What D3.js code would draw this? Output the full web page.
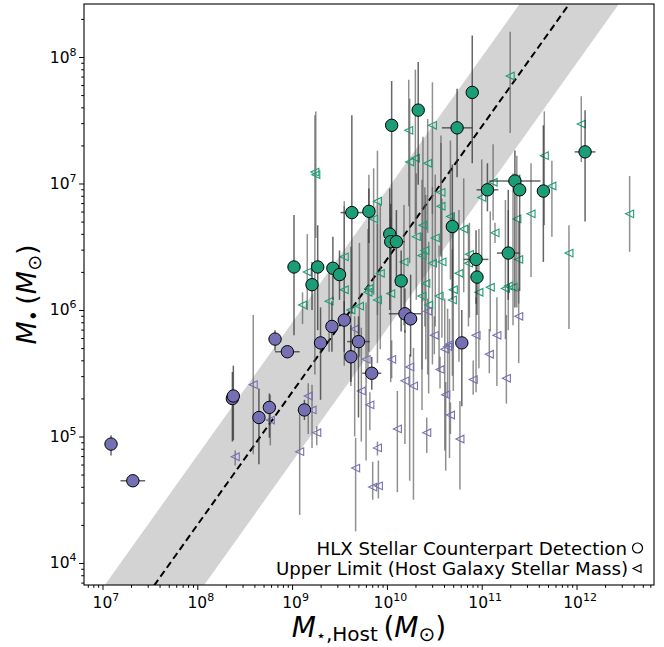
<!DOCTYPE html>
<html>
<head>
<meta charset="utf-8">
<script src="https://cdn.jsdelivr.net/npm/d3@7"></script>
<style>
  body { margin: 0; background: #fff; }
  svg text { font-family: "DejaVu Sans", sans-serif; }
</style>
</head>
<body>
<div id="chart"></div>
<script>
// all values are log10 (dex); errors are dex offsets below / above the point

// HLX detections, green (high-mass)
var detGreenX  = [9.02, 9.27, 9.21, 9.43, 9.50, 9.63, 9.81, 10.05, 10.33, 10.74, 10.90, 10.03, 10.04, 10.10, 10.15, 10.69, 10.94, 10.95, 11.06, 11.35, 11.40, 11.28, 11.65, 12.09];
var detGreenY  = [6.34, 6.34, 6.20, 6.33, 6.28, 6.77, 6.78, 7.46, 7.58, 7.44, 7.72, 6.60, 6.54, 6.54, 6.23, 6.66, 6.40, 6.26, 6.95, 7.02, 6.95, 6.45, 6.94, 7.25];
var detGreenUp = [0.41, 0.33, 0.18, 0.25, 0.19, 0.77, 0.18, 0.35, 0.38, 0.31, 0.45, 0.36, 0.30, 0.25, 0.24, 0.49, 0.23, 0.12, 0.21, 0.24, 0.12, 0.50, 0.52, 0.33];
var detGreenDn = [0.54, 0.50, 0.20, 0.25, 0.20, 0.80, 0.25, 0.90, 0.59, 0.39, 0.56, 0.60, 0.40, 0.35, 0.40, 0.58, 0.35, 0.30, 0.17, 1.00, 0.80, 0.37, 0.56, 0.55];
var detGreenXe = [0, 0, 0, 0, 0, 0.12, 0, 0, 0, 0.16, 0, 0, 0, 0.09, 0, 0, 0.13, 0, 0.115, 0.27, 0, 0.12, 0, 0.11];

// HLX detections, purple (low-mass)
var detPurpleX  = [7.09, 7.32, 8.37, 8.38, 8.65, 8.76, 9.13, 8.82, 8.95, 9.30, 9.42, 9.55, 9.70, 9.62, 9.84, 10.19, 10.25, 10.79];
var detPurpleY  = [4.94, 4.65, 5.30, 5.32, 5.15, 5.23, 5.21, 5.77, 5.67, 5.74, 5.87, 5.92, 5.75, 5.63, 5.50, 5.97, 5.93, 5.74];
var detPurpleUp = [0.07, 0, 0.21, 0.24, 0.23, 0.11, 0.08, 0.07, 0, 0.28, 0.20, 0.15, 0.20, 0.25, 0.13, 0.20, 0.35, 0.26];
var detPurpleDn = [0.09, 0, 0.34, 0.35, 0.37, 0.24, 0.08, 0.09, 0, 0.45, 0.20, 0.25, 0.60, 0.20, 0.13, 0.15, 0.30, 0.50];
var detPurpleXe = [0, 0.13, 0, 0, 0, 0, 0, 0, 0.13, 0, 0, 0, 0.12, 0, 0.10, 0.17, 0, 0];

// upper limits on host stellar mass, green
var limGreenX  = [9.24, 9.25, 11.30, 10.23, 10.48, 10.24, 10.30, 10.43, 12.05, 11.66, 11.12, 11.00, 11.74, 12.56, 10.57, 10.57, 10.67, 10.81, 10.51, 11.52, 11.37, 11.14, 11.92, 11.39, 10.87, 10.86, 10.58, 10.48, 10.76, 11.09, 10.97, 11.25, 11.28, 11.33, 10.70, 10.69, 10.37, 10.18, 9.93, 10.41, 10.04, 9.90, 10.37, 10.55, 10.44, 9.81, 9.80, 9.55, 9.16, 9.55, 9.39, 9.11, 9.71, 9.62, 9.86, 9.90, 10.38, 10.31, 10.40];
var limGreenY  = [7.09, 7.07, 7.85, 7.42, 7.46, 7.17, 7.20, 7.16, 7.47, 7.22, 7.01, 6.89, 6.98, 6.76, 6.93, 6.82, 6.74, 6.64, 6.57, 6.76, 6.72, 6.61, 6.45, 6.40, 6.44, 6.37, 6.38, 6.37, 6.29, 6.18, 6.14, 6.17, 6.19, 6.18, 6.16, 6.08, 6.43, 6.38, 6.29, 6.21, 6.13, 6.08, 6.11, 6.11, 6.04, 6.17, 6.14, 6.42, 6.30, 6.16, 6.07, 6.04, 6.03, 6.00, 6.72, 6.86, 6.67, 6.58, 6.47];
var limGreenUp = [0.45, 0.50, 0.35, 0.40, 0.34, 0.50, 0.70, 0.35, 0.22, 0.35, 0.30, 0.30, 0.20, 0.30, 0.45, 0.50, 0.60, 0.40, 0.50, 0.40, 0.50, 0.08, 0.22, 0.30, 0.25, 0.30, 0.50, 0.60, 0.50, 0.60, 0.50, 0.70, 0.60, 0.90, 0.60, 0.40, 0.60, 0.45, 0.55, 0.70, 0.60, 0.60, 0.50, 0.40, 0.50, 0.90, 0.50, 0.40, 0.30, 0.70, 0.30, 0.10, 0.50, 0.50, 0.40, 0.40, 0.70, 0.50, 0.50];
var limGreenDn = [1.60, 0.50, 0.45, 0.60, 0.70, 0.80, 0.60, 0.55, 0.30, 0.55, 0.30, 0.50, 0.40, 0.30, 0.50, 0.40, 0.50, 0.50, 0.70, 0.50, 0.70, 0.08, 0.60, 0.35, 0.50, 0.50, 0.60, 0.80, 0.70, 0.35, 0.60, 0.40, 0.35, 0.30, 0.80, 0.60, 0.90, 0.50, 0.60, 0.60, 0.70, 0.50, 0.90, 0.60, 0.70, 0.50, 0.60, 0.50, 0.30, 0.60, 0.40, 0.15, 0.40, 0.60, 0.60, 0.90, 0.60, 0.50, 0.60];

// upper limits on host stellar mass, purple
var limPurpleX  = [10.43, 9.66, 9.78, 10.05, 10.24, 10.19, 10.28, 9.73, 9.82, 10.50, 10.66, 10.61, 10.64, 10.94, 11.16, 11.39, 11.08, 10.56, 10.91, 11.26, 10.62, 10.67, 10.11, 10.42, 10.77, 9.90, 9.67, 9.85, 9.91, 8.59, 8.40, 8.77, 9.17, 9.21, 9.26, 9.08];
var limPurpleY  = [5.99, 5.85, 5.61, 5.61, 5.55, 5.44, 5.40, 5.36, 5.25, 5.80, 5.73, 5.69, 5.71, 5.80, 5.80, 5.95, 5.65, 5.53, 5.45, 5.46, 5.33, 5.17, 5.06, 5.03, 4.98, 4.91, 4.75, 4.60, 4.61, 5.41, 4.84, 5.13, 5.32, 5.21, 5.03, 4.88];
var limPurpleUp = [0.10, 0.10, 0.45, 0.15, 0.10, 0.40, 0.30, 0.50, 0.10, 0.15, 0.20, 0.40, 0.30, 0.30, 0.30, 0.22, 0.20, 0.10, 0.15, 0.50, 0.10, 0.10, 0.30, 0.12, 0.30, 0.05, 0.24, 0.20, 0.20, 0.55, 0.05, 0.20, 0.10, 0.20, 0.05, 0.30];
var limPurpleDn = [0.50, 0.85, 0.80, 0.15, 0.90, 0.50, 0.90, 0.40, 0.20, 0.15, 0.90, 0.80, 0.40, 0.45, 0.40, 0.37, 0.15, 0.15, 0.12, 0.20, 0.60, 0.15, 0.50, 0.16, 0.40, 0.06, 0.50, 0.10, 0.10, 0.55, 0.07, 0.20, 0.30, 0.30, 0.10, 0.50];

// scaling relation (dex): log M_BH = alpha + beta (log M* - 11), +/- scatter
var relAlpha = 7.45, relBeta = 1.05, relScatter = 0.55;

var xMajor = [7, 8, 9, 10, 11, 12];
var yMajor = [4, 5, 6, 7, 8];

var colGreen = '#1b9e77', colPurple = '#7570b3';

(function (d3) {
    var W = 664, H = 647,
        L = 84, R = 654, T = 4, B = 585;

    var x = d3.scaleLog().domain([Math.pow(10, 6.805), Math.pow(10, 12.817)]).range([L, R]),
        y = d3.scaleLog().domain([Math.pow(10, 3.826), Math.pow(10, 8.419)]).range([B, T]);

    var svg = d3.select('#chart').append('svg')
        .attr('width', W).attr('height', H);

    svg.append('defs').append('clipPath').attr('id', 'plotClip')
        .append('rect').attr('x', L).attr('y', T).attr('width', R - L).attr('height', B - T);

    var plot = svg.append('g').attr('clip-path', 'url(#plotClip)');

    function zip(xs, ys, up, dn, xe) {
        return xs.map(function (v, i) {
            return { lx: v, ly: ys[i], up: up[i], dn: dn[i], xe: xe ? xe[i] : 0 };
        });
    }
    var detGreen = zip(detGreenX, detGreenY, detGreenUp, detGreenDn, detGreenXe),
        detPurple = zip(detPurpleX, detPurpleY, detPurpleUp, detPurpleDn, detPurpleXe),
        limGreen = zip(limGreenX, limGreenY, limGreenUp, limGreenDn),
        limPurple = zip(limPurpleX, limPurpleY, limPurpleUp, limPurpleDn);

    function p10(v) { return Math.pow(10, v); }

    // scatter band and best-fit relation
    var relX = [6.6, 13.0];
    function rel(lx, off) { return relAlpha + relBeta * (lx - 11) + off; }
    var band = relX.map(function (lx) { return [x(p10(lx)), y(p10(rel(lx, relScatter)))]; })
        .concat(relX.slice().reverse().map(function (lx) { return [x(p10(lx)), y(p10(rel(lx, -relScatter)))]; }));
    plot.append('path')
        .attr('d', d3.line()(band) + 'Z')
        .attr('fill', '#d3d3d3');
    plot.append('path')
        .attr('d', d3.line()(relX.map(function (lx) { return [x(p10(lx)), y(p10(rel(lx, 0)))]; })))
        .attr('fill', 'none')
        .attr('stroke', '#000')
        .attr('stroke-width', 2)
        .attr('stroke-dasharray', '7,4');

    // error bars
    function errBars(data, stroke, opacity) {
        var g = plot.append('g')
            .attr('stroke', stroke)
            .attr('stroke-opacity', opacity)
            .attr('stroke-width', 1.5);
        data.forEach(function (d) {
            if (d.up || d.dn) {
                g.append('line')
                    .attr('x1', x(p10(d.lx))).attr('x2', x(p10(d.lx)))
                    .attr('y1', y(p10(d.ly + d.up))).attr('y2', y(p10(d.ly - d.dn)));
            }
            if (d.xe) {
                g.append('line')
                    .attr('y1', y(p10(d.ly))).attr('y2', y(p10(d.ly)))
                    .attr('x1', x(p10(d.lx - d.xe))).attr('x2', x(p10(d.lx + d.xe)));
            }
        });
    }

    function triPath(cx, cy) {
        var w = 4, h = 3.8;
        return 'M' + (cx - w) + ',' + cy + 'L' + (cx + w) + ',' + (cy - h) +
            'L' + (cx + w) + ',' + (cy + h) + 'Z';
    }

    function limits(data, col) {
        plot.append('g').selectAll('path').data(data).enter().append('path')
            .attr('d', function (d) { return triPath(x(p10(d.lx)), y(p10(d.ly))); })
            .attr('fill', 'none')
            .attr('stroke', col)
            .attr('stroke-width', 1.1);
    }

    function detections(data, col) {
        plot.append('g').selectAll('circle').data(data).enter().append('circle')
            .attr('cx', function (d) { return x(p10(d.lx)); })
            .attr('cy', function (d) { return y(p10(d.ly)); })
            .attr('r', 6.2)
            .attr('fill', col)
            .attr('stroke', '#000')
            .attr('stroke-width', 1);
    }

    errBars(limGreen, '#555', 0.65);
    errBars(limPurple, '#555', 0.65);
    limits(limGreen, colGreen);
    limits(limPurple, colPurple);
    errBars(detGreen, '#333', 0.75);
    errBars(detPurple, '#333', 0.75);
    detections(detGreen, colGreen);
    detections(detPurple, colPurple);

    // axes: major + minor log ticks
    function minors(lo, hi) {
        var out = [];
        for (var e = lo; e <= hi; e++) {
            for (var m = 2; m <= 9; m++) { out.push(m * Math.pow(10, e)); }
        }
        return out;
    }
    var xDom = x.domain(), yDom = y.domain();
    var xMin = minors(6, 12).filter(function (v) { return v >= xDom[0] && v <= xDom[1]; }),
        yMin = minors(3, 8).filter(function (v) { return v >= yDom[0] && v <= yDom[1]; });

    var gx = svg.append('g').attr('transform', 'translate(0,' + B + ')');
    gx.call(d3.axisBottom(x).tickValues(xMajor.map(p10)).tickSize(4.9).tickFormat(''));
    gx.append('g').call(d3.axisBottom(x).tickValues(xMin).tickSize(2.8).tickFormat(''));
    var gy = svg.append('g').attr('transform', 'translate(' + L + ',0)');
    gy.call(d3.axisLeft(y).tickValues(yMajor.map(p10)).tickSize(4.9).tickFormat(''));
    gy.append('g').call(d3.axisLeft(y).tickValues(yMin).tickSize(2.8).tickFormat(''));
    svg.selectAll('.domain').remove();
    svg.selectAll('.tick line').attr('stroke', '#000').attr('stroke-width', 1);

    function powLabel(sel, e) {
        sel.append('tspan').text('10');
        sel.append('tspan').attr('dy', -7).attr('font-size', 11).text(String(e));
    }
    xMajor.forEach(function (e) {
        var t = svg.append('text')
            .attr('x', x(p10(e)) + 3.5).attr('y', 608)
            .attr('text-anchor', 'middle')
            .attr('font-size', 15.5);
        powLabel(t, e);
    });
    yMajor.forEach(function (e) {
        var t = svg.append('text')
            .attr('x', L - 7.5).attr('y', y(p10(e)) + 5.5)
            .attr('text-anchor', 'end')
            .attr('font-size', 15.5);
        powLabel(t, e);
    });

    svg.append('rect')
        .attr('x', L).attr('y', T).attr('width', R - L).attr('height', B - T)
        .attr('fill', 'none').attr('stroke', '#000').attr('stroke-width', 1.1);

    // axis titles
    var xl = svg.append('text')
        .attr('x', (L + R) / 2).attr('y', 637)
        .attr('text-anchor', 'middle')
        .attr('font-size', 28);
    xl.append('tspan').attr('font-style', 'italic').text('M');
    xl.append('tspan').attr('dy', 4).attr('font-size', 16).text('\u22c6');
    xl.append('tspan').attr('font-size', 20).text(',Host');
    xl.append('tspan').attr('dy', -4).text('\u2009(');
    xl.append('tspan').attr('font-style', 'italic').text('M');
    xl.append('tspan').attr('dy', 4).attr('font-size', 20).text('\u2299');
    xl.append('tspan').attr('dy', -4).text(')');

    var yl = svg.append('text')
        .attr('transform', 'translate(36,' + ((T + B) / 2) + ') rotate(-90)')
        .attr('text-anchor', 'middle')
        .attr('font-size', 27);
    yl.append('tspan').attr('font-style', 'italic').text('M');
    yl.append('tspan').attr('dy', 4).attr('font-size', 19).text('\u2022');
    yl.append('tspan').attr('dy', -4).text('\u2009(');
    yl.append('tspan').attr('font-style', 'italic').text('M');
    yl.append('tspan').attr('dy', 5).attr('font-size', 19).text('\u2299');
    yl.append('tspan').attr('dy', -5).text(')');

    // legend (marker after text)
    var lg = svg.append('g').attr('font-size', 18.2);
    lg.append('text').attr('x', 627).attr('y', 554.5).attr('text-anchor', 'end')
        .text('HLX Stellar Counterpart Detection');
    lg.append('circle').attr('cx', 637.5).attr('cy', 548).attr('r', 5)
        .attr('fill', 'none').attr('stroke', '#000').attr('stroke-width', 1.2);
    lg.append('text').attr('x', 628).attr('y', 575).attr('text-anchor', 'end')
        .text('Upper Limit (Host Galaxy Stellar Mass)');
    lg.append('path').attr('d', triPath(637, 568.5))
        .attr('fill', 'none').attr('stroke', '#000').attr('stroke-width', 1.1);
}(window.d3));
</script>
</body>
</html>
